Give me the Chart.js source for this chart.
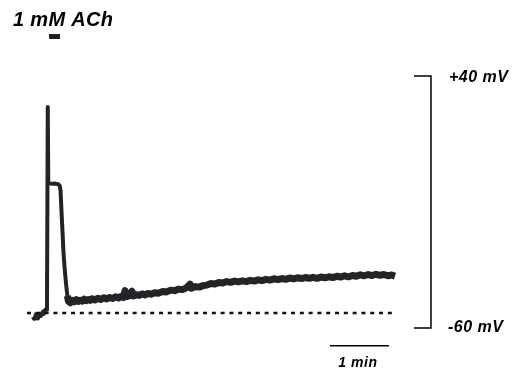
<!DOCTYPE html>
<html>
<head>
<meta charset="utf-8">
<script src="https://cdn.jsdelivr.net/npm/chart.js@4/dist/chart.umd.min.js"></script>
<style>
  html, body { margin: 0; padding: 0; background: #fff; }
</style>
</head>
<body>
<canvas id="traceChart" width="522" height="372"></canvas>
<script>
// -- membrane potential trace, time in s, potential in mV
var traceTime = [0, 1, 2, 3, 4, 5, 6, 7, 8, 9, 10, 11, 12, 13, 14.2, 15.0, 15.5, 17, 20, 23, 26, 27.2,
  28, 29, 30, 31, 32, 33, 34, 35,
  36, 38, 40, 42, 44, 46, 48, 50, 52, 54, 56, 58, 60, 63, 66, 69, 72, 75, 78, 81, 84, 87, 90, 92,
  93.6, 95, 98, 100.7, 102, 105, 108, 111, 114, 117, 120, 124, 128, 132, 136, 140, 144, 148, 152, 156,
  159.7, 161, 165, 169, 173, 177, 181, 185, 189, 193, 197, 201, 205, 209, 213, 217, 221, 225, 229, 233,
  237, 241, 245, 249, 253, 257, 261, 265, 269, 273, 277, 281, 285, 289, 293, 297, 301, 305, 309, 313,
  317, 321, 325, 329, 333, 337, 341, 345, 349, 353, 357, 361, 365, 368.3];
var traceVm = [-55.6, -56.4, -55.8, -54.6, -55.4, -56.2, -55.0, -54.4, -55.2, -54.2, -53.6, -54.4, -53.0, -52.6, -52.8, 27.7, -2.4, -2.6, -2.8, -2.7, -3.0, -3.6,
  -5.5, -14, -22, -30, -35.5, -40, -44, -47.3,
  -49.4, -50.0, -49.1, -49.6, -48.8, -49.5, -49.0, -49.4, -48.6, -49.2, -48.7, -49.1, -48.4, -48.9, -48.2, -48.7, -48.0, -48.5, -47.9, -48.3, -47.6, -48.1, -47.4, -47.9,
  -45.2, -47.6, -47.2, -45.4, -47.3, -46.8, -47.1, -46.5, -46.9, -46.3, -46.6, -46.0, -46.2, -45.5, -45.7, -45.0, -45.2, -44.6, -44.8, -44.1,
  -42.6, -44.2, -43.6, -43.8, -43.2, -43.0, -42.4, -42.6, -42.0, -42.2, -41.6, -41.9, -41.4, -41.7, -41.3, -41.6, -41.1, -41.4, -40.9, -41.2,
  -40.7, -41.0, -40.5, -40.8, -40.4, -40.7, -40.2, -40.5, -40.1, -40.4, -40.0, -40.3, -39.9, -40.3, -39.8, -40.1, -39.7, -40.0, -39.5, -39.8,
  -39.3, -39.7, -39.2, -39.5, -38.9, -39.3, -38.8, -39.2, -38.7, -39.1, -38.8, -39.3, -39.0, -39.4];

// resting level (dotted line)
var restTime = [-6.1, 366.2];
var restVm = -54.05;

// ACh application bar
var achTime = [16.3, 27.5];
var achVm = 55.7;

// scale bars: voltage bracket and 1 min bar
var voltScaleVm = [40, -60];
var voltScaleTime = [387.6, 404.9];
var timeScaleTime = [302.1, 362.1];
var timeScaleVm = -67.1;

function pts(xs, ys) {
  return xs.map(function (x, i) { return { x: x, y: ys[i] }; });
}

var traceData = pts(traceTime, traceVm);
var restData = restTime.map(function (t) { return { x: t, y: restVm }; });
var achData = achTime.map(function (t) { return { x: t, y: achVm }; });
var bracketData = [
  { x: voltScaleTime[0], y: voltScaleVm[0] },
  { x: voltScaleTime[1], y: voltScaleVm[0] },
  { x: voltScaleTime[1], y: voltScaleVm[1] },
  { x: voltScaleTime[0], y: voltScaleVm[1] }
];
var timeBarData = timeScaleTime.map(function (t) { return { x: t, y: timeScaleVm }; });

var labelPlugin = {
  id: 'labels',
  afterDraw: function (chart) {
    var c = chart.ctx, xs = chart.scales.x, ys = chart.scales.y;
    c.save();
    c.fillStyle = '#000';
    c.textBaseline = 'alphabetic';
    c.textAlign = 'left';
    c.font = 'italic bold 20px "Liberation Sans", Arial, sans-serif';
    c.letterSpacing = '0.3px';
    c.fillText('1 mM ACh', xs.getPixelForValue(-20.3), ys.getPixelForValue(59.8));
    c.font = 'italic bold 16px "Liberation Sans", Arial, sans-serif';
    c.letterSpacing = '0.5px';
    c.fillText('+40 mV', xs.getPixelForValue(423.2), ys.getPixelForValue(37.6));
    c.fillText('-60 mV', xs.getPixelForValue(422.2), ys.getPixelForValue(-61.6));
    c.font = 'italic bold 14px "Liberation Sans", Arial, sans-serif';
    c.letterSpacing = '0.6px';
    c.textAlign = 'center';
    c.fillText('1 min', xs.getPixelForValue(330.6), ys.getPixelForValue(-75.5));
    c.restore();
  }
};

var ctx = document.getElementById('traceChart');
var traceChart = new Chart(ctx, {
  type: 'line',
  data: {
    datasets: [{
      data: restData,
      borderColor: '#111',
      borderWidth: 2.5,
      borderDash: [4, 4.8],
      pointRadius: 0
    }, {
      data: traceData,
      borderColor: '#232427',
      borderWidth: 4,
      borderJoinStyle: 'round',
      pointRadius: 0,
      segment: {
        borderWidth: function (s) { return s.p0.parsed.x >= 35 ? 7 : 4; }
      }
    }, {
      data: achData,
      borderColor: '#231f1c',
      borderWidth: 5,
      pointRadius: 0
    }, {
      data: bracketData,
      borderColor: '#000',
      borderWidth: 1.5,
      pointRadius: 0
    }, {
      data: timeBarData,
      borderColor: '#000',
      borderWidth: 1.5,
      pointRadius: 0
    }]
  },
  options: {
    responsive: false,
    animation: false,
    layout: { padding: 0 },
    plugins: { legend: { display: false }, tooltip: { enabled: false } },
    elements: { line: { tension: 0 } },
    scales: {
      x: { type: 'linear', min: -33.6, max: 497.5, display: false },
      y: { type: 'linear', min: -77.5, max: 70.2, display: false }
    }
  },
  plugins: [labelPlugin]
});
</script>
</body>
</html>
